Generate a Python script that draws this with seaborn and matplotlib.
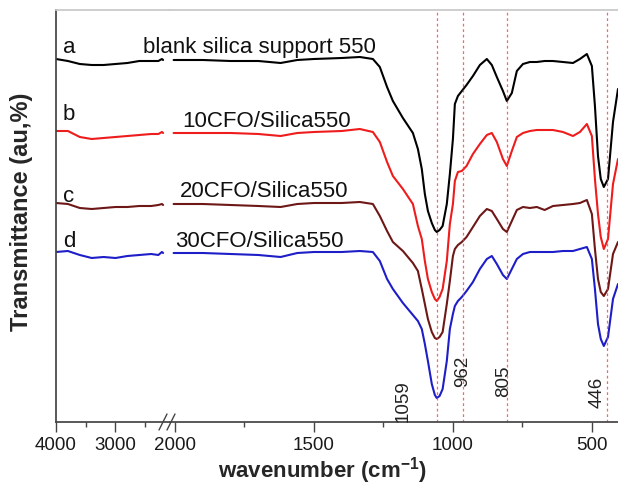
import pandas as pd
import seaborn as sns
import matplotlib.pyplot as plt
from matplotlib.lines import Line2D
from matplotlib.ticker import FixedLocator

# compressed high-wavenumber section (4000-2000 cm-1)
wn_hi = [4000, 3800, 3600, 3400, 3200, 3000, 2800, 2600, 2400, 2280, 2220, 2200]
a_hi = [363, 361, 358, 357, 357, 358, 359, 361, 361, 361, 363, 362]
b_hi = [291, 291, 285, 283, 284, 285, 286, 287, 288, 288, 290, 289]
c_hi = [219, 218, 214, 213, 214, 215, 215, 216, 216, 217, 218, 217]
d_hi = [170, 171, 167, 164, 165, 164, 166, 167, 168, 167, 170, 169]

# main section (2000-400 cm-1)
wn_lo = [2005, 1900, 1800, 1700, 1620, 1560, 1500, 1400, 1335, 1288, 1263, 1237, 1216, 1180,
         1144, 1126, 1112, 1101, 1090, 1076, 1065, 1058, 1048, 1037, 1022, 1011, 1000, 993,
         982, 968, 951, 928, 903, 878, 860, 842, 820, 806, 788, 770, 748, 723, 698, 670,
         640, 604, 568, 543, 518, 500, 489, 478, 468, 457, 442, 424, 406]
a_lo = [362, 362, 361, 361, 359, 362, 363, 364, 365, 363, 355, 335, 321, 304, 289, 273, 253,
        228, 211, 199, 192, 190, 192, 196, 218, 248, 283, 318, 326, 331, 337, 346, 357, 363,
        357, 345, 331, 321, 329, 351, 358, 360, 360, 361, 361, 360, 359, 363, 368, 356, 316,
        266, 243, 235, 243, 300, 333]
b_lo = [289, 289, 289, 288, 286, 289, 290, 291, 293, 290, 280, 260, 246, 233, 218, 196, 183,
        161, 143, 130, 123, 121, 125, 133, 161, 198, 218, 241, 250, 251, 256, 268, 278, 287,
        289, 280, 263, 256, 271, 285, 289, 291, 292, 292, 292, 290, 286, 290, 298, 286, 243,
        208, 185, 173, 183, 238, 263]
c_lo = [218, 218, 217, 216, 215, 218, 219, 219, 220, 218, 206, 191, 180, 171, 159, 151, 133,
        118, 103, 90, 84, 83, 85, 90, 118, 141, 166, 173, 177, 180, 185, 195, 206, 213, 211,
        203, 193, 190, 201, 212, 215, 214, 215, 212, 216, 217, 218, 219, 222, 208, 173, 143,
        130, 126, 133, 168, 180]
d_lo = [169, 169, 168, 167, 165, 169, 170, 170, 171, 170, 161, 143, 133, 119, 107, 101, 93,
        78, 61, 38, 27, 24, 26, 33, 61, 93, 108, 116, 121, 125, 131, 140, 153, 163, 166, 158,
        147, 143, 153, 163, 168, 170, 170, 170, 170, 171, 171, 173, 175, 163, 133, 98, 83, 76,
        85, 123, 138]

samples = ['a', 'b', 'c', 'd']
names = ['blank silica support 550', '10CFO/Silica550', '20CFO/Silica550', '30CFO/Silica550']
colors = ['#000000', '#ee1c1c', '#6e1717', '#1e1ec8']
peaks = [1059, 962, 805, 446]

hi = pd.DataFrame({'wn': wn_hi * 4, 'T': a_hi + b_hi + c_hi + d_hi,
                   'sample': [s for s in samples for _ in wn_hi]})
lo = pd.DataFrame({'wn': wn_lo * 4, 'T': a_lo + b_lo + c_lo + d_lo,
                   'sample': [s for s in samples for _ in wn_lo]})

sns.set_theme(style="white")
plt.rcParams['font.family'] = ['Liberation Sans', 'DejaVu Sans']
plt.rcParams['mathtext.fontset'] = 'custom'
plt.rcParams['mathtext.bf'] = 'Liberation Sans:bold'
plt.rcParams['mathtext.rm'] = 'Liberation Sans'

W, H = 618, 485
fig = plt.figure(figsize=(W / 100, H / 100), dpi=100)
ax1 = fig.add_axes([56 / W, 62 / H, 114 / W, 412 / H])
ax2 = fig.add_axes([170 / W, 62 / H, 448 / W, 412 / H])

pal = dict(zip(samples, colors))
sns.lineplot(data=hi, x='wn', y='T', hue='sample', palette=pal, lw=1.5,
             legend=False, ax=ax1, sort=False)
sns.lineplot(data=lo, x='wn', y='T', hue='sample', palette=pal, lw=1.5,
             legend=False, ax=ax2, sort=False)

ax1.set_xlim(4000, 2084)
ax2.set_xlim(2018, 406)
for ax in (ax1, ax2):
    ax.set_ylim(0, 412)
    ax.set_yticks([])
    ax.set_xlabel('')
    ax.set_ylabel('')
    ax.spines['top'].set_color('#c8c8c8')
    ax.spines['bottom'].set_color('#444444')
    ax.spines['right'].set_visible(False)
    ax.tick_params(axis='x', which='major', direction='out', length=7, width=1,
                   color='#444444', labelsize=13.5, labelcolor='#1a1a1a', pad=3, bottom=True)
    ax.tick_params(axis='x', which='minor', direction='out', length=3.5, width=1,
                   color='#444444', bottom=True)
ax1.spines['left'].set_color('#444444')
ax2.spines['left'].set_visible(False)

ax1.set_xticks([4000, 3000])
ax1.xaxis.set_minor_locator(FixedLocator([3500, 2500]))
ax2.set_xticks([2000, 1500, 1000, 500])
ax2.xaxis.set_minor_locator(FixedLocator([1750, 1250, 750]))

for p in peaks:
    ax2.axvline(p, color='#ff3030', lw=0.9, ls=(0, (2.2, 2.2)), alpha=0.75)

# peak labels
for txt, x, y in [('1059', 1180, 1), ('962', 964, 36), ('805', 817, 26), ('446', 482, 15)]:
    ax2.text(x, y, txt, rotation=90, ha='center', va='bottom', fontsize=13.5, color='#222222')

# break marks on the x axis
for x0 in (159, 167):
    fig.add_artist(Line2D([x0 / W, (x0 + 8) / W], [(H - 431) / H, (H - 415) / H],
                          color='#444444', lw=1))

# curve labels
for s, x, y in [('a', 63, 53), ('b', 63, 120), ('c', 63, 202), ('d', 63, 247)]:
    fig.text(x / W, (H - y) / H, s, fontsize=16, va='baseline', color='#111111')
for n, x, y in zip(names, [143, 182, 180, 175], [53, 127, 197, 247]):
    fig.text(x / W, (H - y) / H, n, fontsize=16, va='baseline', color='#111111')

fig.text(22 / W, (H - 212) / H, 'Transmittance (au,%)', rotation=90, ha='center',
         va='center', fontsize=17, fontweight='bold')
fig.text(322 / W, (H - 478) / H, r'wavenumber (cm$^{\mathbf{-1}}$)', ha='center',
         va='baseline', fontsize=16, fontweight='bold')

fig.savefig('out.png', dpi=100)
